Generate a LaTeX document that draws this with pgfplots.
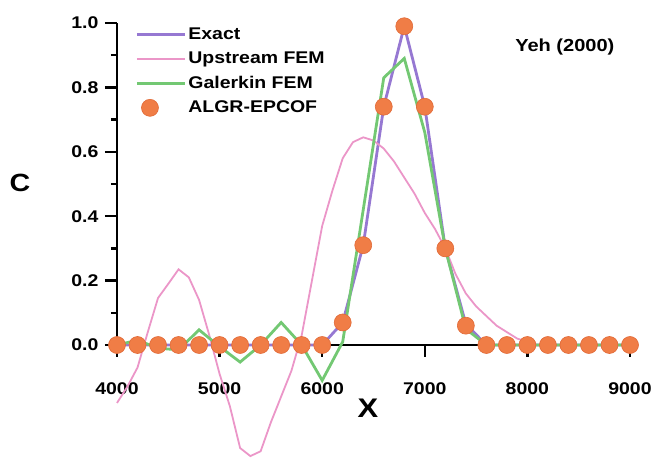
\documentclass[border=0pt]{standalone}
\usepackage{fontspec}
\setmainfont{Liberation Sans}[FakeStretch=1.15]
\usepackage{pgfplots}
\pgfplotsset{compat=1.18}

\definecolor{exactc}{RGB}{150,120,210}
\definecolor{upc}{RGB}{235,150,200}
\definecolor{galc}{RGB}{115,200,115}
\definecolor{dotc}{RGB}{240,125,70}
\definecolor{dotd}{RGB}{225,105,55}

% legend sample for the dots: one mark, left of the line samples' centre
\pgfplotsset{dotlegend/.style={legend image code/.code={%
  \draw[##1] plot coordinates {(13bp,0bp)};}}}

\begin{document}
\begin{tikzpicture}
\useasboundingbox (-117bp,-115bp) rectangle (540bp,345bp);
\begin{axis}[
  at={(0,0)}, anchor=south west,
  scale only axis, width=513bp, height=322bp,
  xmin=4000, xmax=9000, ymin=0, ymax=1,
  enlargelimits=false, clip=false,
  axis lines=left,
  axis line style={-, line width=2.8bp},
  tick align=outside,
  major tick length=12bp, minor tick length=6bp,
  every tick/.style={black, line width=2.5bp},
  xtick={4000,5000,6000,7000,8000,9000},
  xticklabels={4000,5000,6000,7000,8000,9000},
  ytick={0,0.2,0.4,0.6,0.8,1.0},
  yticklabels={0.0,0.2,0.4,0.6,0.8,1.0},
  minor ytick={0.1,0.3,0.5,0.7,0.9},
  scaled ticks=false,
  /pgf/number format/assume math mode=true,
  tick label style={font=\fontsize{17}{17}\selectfont\bfseries},
  xticklabel style={yshift=-22bp},
  yticklabel style={xshift=-3bp},
  legend cell align=left,
  legend style={at={(rel axis cs:0.03,0.997)}, anchor=north west,
    draw=none, fill=none, font=\fontsize{17}{17}\selectfont\bfseries,
    row sep=7bp},
  legend image code/.code={\draw[mark repeat=2,mark phase=2,#1]
    plot coordinates {(0bp,0bp) (24bp,0bp) (48bp,0bp)};},
]
\addplot[exactc, line width=2.8bp] coordinates {
  (4000,0) (6000,0) (6200,0.07) (6400,0.31) (6600,0.74) (6800,0.99)
  (7000,0.74) (7200,0.30) (7400,0.065) (7600,0) (9000,0)};
\addplot[upc, line width=1.8bp] coordinates {
  (4000,-0.18) (4100,-0.13) (4200,-0.07) (4300,0.04) (4400,0.146)
  (4500,0.19) (4600,0.235) (4700,0.21) (4800,0.14) (4900,0.03)
  (5000,-0.09) (5100,-0.19) (5200,-0.32) (5300,-0.345) (5400,-0.33)
  (5500,-0.24) (5600,-0.16) (5700,-0.08) (5800,0.03) (5900,0.2)
  (6000,0.37) (6100,0.48) (6200,0.58) (6300,0.63) (6400,0.645)
  (6500,0.635) (6600,0.61) (6700,0.57) (6800,0.52) (6900,0.47)
  (7000,0.41) (7100,0.36) (7200,0.30) (7300,0.22) (7400,0.16)
  (7500,0.12) (7600,0.09) (7700,0.06) (7800,0.04) (7900,0.02)
  (8000,0.01) (8100,0) (9000,0)};
\addplot[galc, line width=2.8bp] coordinates {
  (4000,0) (4200,0.015) (4400,-0.01) (4600,-0.015) (4800,0.047)
  (5000,-0.005) (5200,-0.053) (5400,0) (5600,0.07) (5800,0)
  (6000,-0.11) (6200,0.01) (6400,0.42) (6600,0.83) (6800,0.89)
  (7000,0.66) (7200,0.30) (7400,0.05) (7600,0) (9000,0)};
\addplot[only marks, mark=*, mark size=8.5bp,
  mark options={fill=dotc, draw=dotd, line width=0.6bp},
  dotlegend] coordinates {
  (4000,0) (4200,0) (4400,0) (4600,0) (4800,0) (5000,0) (5200,0)
  (5400,0) (5600,0) (5800,0) (6000,0) (6200,0.07) (6400,0.31)
  (6600,0.74) (6800,0.99) (7000,0.74) (7200,0.30) (7400,0.06)
  (7600,0) (7800,0) (8000,0) (8200,0) (8400,0) (8600,0) (8800,0)
  (9000,0)};
\legend{Exact,Upstream FEM,Galerkin FEM,ALGR-EPCOF}
\node[font=\fontsize{17.5}{18}\selectfont\bfseries] at (rel axis cs:0.873,0.925) {Yeh (2000)};
\node[font=\fontsize{25}{25}\selectfont\bfseries] at (rel axis cs:0,0.503) [xshift=-97bp] {C};
\node[font=\fontsize{27}{27}\selectfont\bfseries] at (rel axis cs:0.489,0) [yshift=-63bp] {X};
\end{axis}
\end{tikzpicture}
\end{document}
